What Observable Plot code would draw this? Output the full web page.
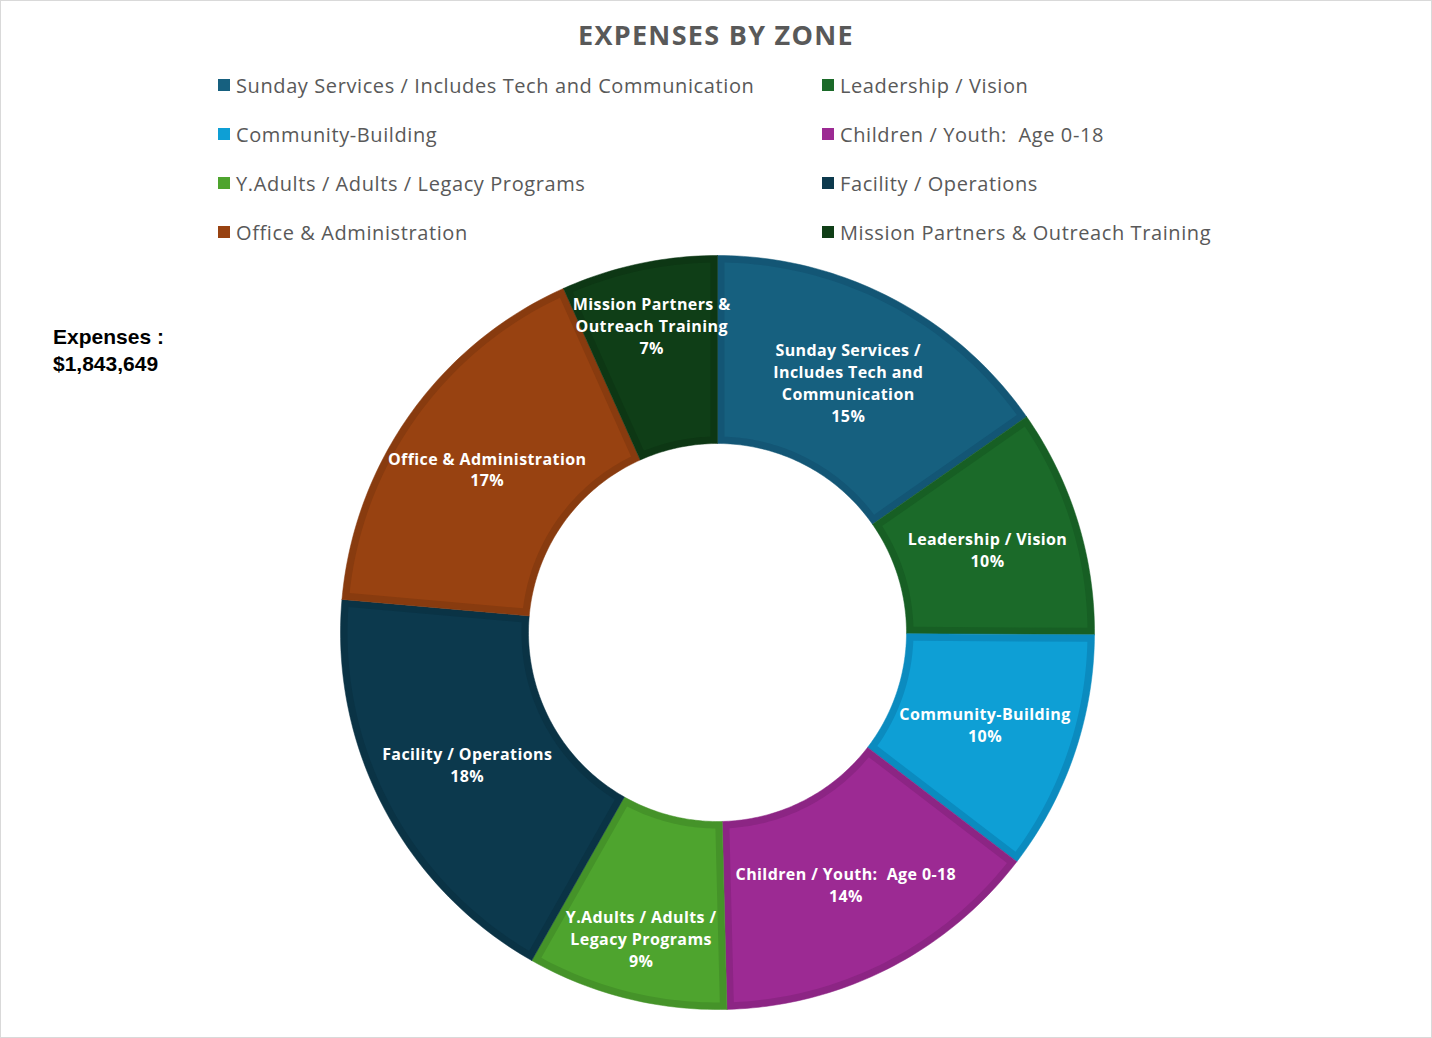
<!DOCTYPE html>
<html>
<head>
<meta charset="utf-8">
<script src="https://cdn.jsdelivr.net/npm/d3@7"></script>
<script src="https://cdn.jsdelivr.net/npm/@observablehq/plot@0.6"></script>
<style>
  html, body { margin: 0; padding: 0; background: #fff; }
  #frame { position: relative; width: 1430px; height: 1036px; border: 1px solid #d9d9d9; background: #fff; overflow: hidden; }
  #title { position: absolute; left: 0; top: 15px; width: 1430px; text-align: center; font-family: "Open Sans", sans-serif; font-weight: 700; font-size: 27px; color: #595959; letter-spacing: 1.3px; }
  #legend { position: absolute; left: 217px; top: 69px; display: grid; grid-template-columns: 604px 420px; grid-auto-rows: 49px; font-family: "Open Sans", sans-serif; font-size: 20px; letter-spacing: 0.6px; color: #595959; }
  .item { display: flex; align-items: center; height: 30px; white-space: pre; }
  .sw { width: 12px; height: 12px; margin-right: 6px; flex: none; }
  #total { position: absolute; left: 52px; top: 322px; font-family: "Liberation Sans", Arial, sans-serif; font-weight: 700; font-size: 21px; line-height: 27px; color: #000; }
  #chart { position: absolute; left: 0; top: 249px; }
</style>
</head>
<body>
<div id="frame">
  <div id="title"></div>
  <div id="legend"></div>
  <div id="total"></div>
  <div id="chart"></div>
</div>
<script>
const chartTitle = "EXPENSES BY ZONE";
const totalLines = ["Expenses :", "$1,843,649"];
const zones = [
  "Sunday Services / Includes Tech and Communication",
  "Leadership / Vision",
  "Community-Building",
  "Children / Youth:  Age 0-18",
  "Y.Adults / Adults / Legacy Programs",
  "Facility / Operations",
  "Office & Administration",
  "Mission Partners & Outreach Training"
];
const shares = [15.3, 9.8, 10.3, 14.2, 8.6, 18.2, 16.9, 6.7];
const sliceLabels = [
  "Sunday Services /\nIncludes Tech and\nCommunication",
  "Leadership / Vision",
  "Community-Building",
  "Children / Youth:  Age 0-18",
  "Y.Adults / Adults /\nLegacy Programs",
  "Facility / Operations",
  "Office & Administration",
  "Mission Partners &\nOutreach Training"
];
const fillColors = ["#16607f", "#1b6a29", "#0e9fd5", "#9c2a93", "#4ea42e", "#0c394d", "#984211", "#0f3e17"];
const edgeColors = ["#135675", "#175f24", "#0b8bbf", "#8c2584", "#459329", "#0a3345", "#883b0f", "#0d3714"];

document.getElementById("title").textContent = chartTitle;
document.getElementById("total").innerHTML = totalLines.join("<br>");
const legend = document.getElementById("legend");
zones.forEach((z, i) => {
  const d = document.createElement("div");
  d.className = "item";
  const s = document.createElement("span");
  s.className = "sw"; s.style.background = fillColors[i];
  const t = document.createElement("span");
  t.textContent = z;
  d.appendChild(s); d.appendChild(t);
  legend.appendChild(d);
});

// geometry in units of outer radius
const W = 1430, H = 770, R = 377, CX = 716, CY = 382;
const rOut = 1, rIn = 189 / R, inset = 7 / R;
const arcs = d3.pie().sort(null).value(d => d)(shares);

function pt(a, r) { return {x: r * Math.sin(a), y: r * Math.cos(a)}; }
function slicePoly(a0, a1, ro, ri, d, key) {
  const pts = [];
  const ao0 = a0 + Math.asin(d / ro), ao1 = a1 - Math.asin(d / ro);
  const ai0 = a0 + Math.asin(d / ri), ai1 = a1 - Math.asin(d / ri);
  const n = Math.max(4, Math.ceil((a1 - a0) / (2 * Math.PI) * 360));
  for (let k = 0; k <= n; k++) pts.push(pt(ao0 + (ao1 - ao0) * k / n, ro));
  for (let k = 0; k <= n; k++) pts.push(pt(ai1 + (ai0 - ai1) * k / n, ri));
  pts.push(pts[0]);
  return pts.map(p => ({...p, key}));
}

const outerPts = [], innerPts = [], labels = [];
arcs.forEach((a, i) => {
  slicePoly(a.startAngle, a.endAngle, rOut, rIn, 0, i).forEach(p => outerPts.push({...p, color: edgeColors[i]}));
  slicePoly(a.startAngle, a.endAngle, rOut - inset, rIn + inset, inset, i).forEach(p => innerPts.push({...p, color: fillColors[i]}));
  const mid = (a.startAngle + a.endAngle) / 2;
  // narrow slices: label pushed outward to where the ring is wider (best-fit)
  const lr = shares[i] < 9 ? 0.835 : 0.75;
  const c = pt(mid, lr);
  labels.push({x: c.x, y: c.y, text: sliceLabels[i] + "\n" + Math.round(shares[i]) + "%"});
});

const chart = Plot.plot({
  width: W, height: H,
  margin: 0,
  x: {domain: [-CX / R, (W - CX) / R], range: [0, W], axis: null},
  y: {domain: [-(H - CY) / R, CY / R], range: [H, 0], axis: null},
  style: {background: "transparent", letterSpacing: "0.4px"},
  marks: [
    Plot.line(outerPts, {x: "x", y: "y", z: "key", fill: "color", stroke: "color", strokeWidth: 0.5}),
    Plot.line(innerPts, {x: "x", y: "y", z: "key", fill: "color", stroke: "none"}),
    Plot.text(labels, {x: "x", y: "y", text: "text", fill: "white", fontSize: 16, fontWeight: 700, lineHeight: 1.375, fontFamily: "Open Sans, sans-serif"})
  ]
});
document.getElementById("chart").appendChild(chart);
</script>
</body>
</html>
